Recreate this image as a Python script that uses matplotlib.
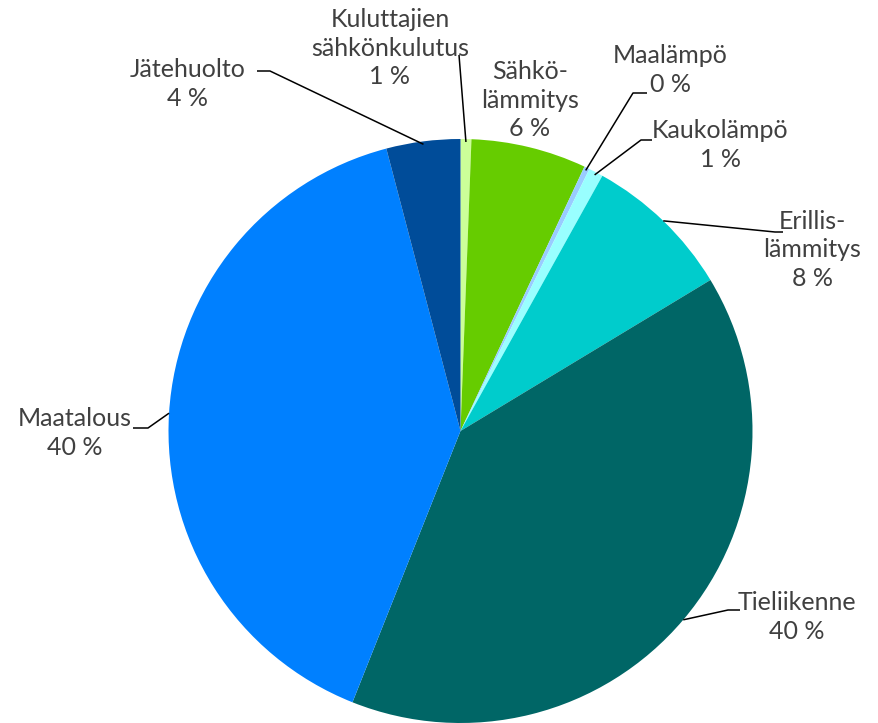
import numpy as np
import matplotlib
matplotlib.use('Agg')
import matplotlib.pyplot as plt

# shares of emissions (%), clockwise from 12 o'clock
sectors = ['Kuluttajien\nsähkönkulutus', 'Sähkö-\nlämmitys', 'Maalämpö', 'Kaukolämpö',
           'Erillis-\nlämmitys', 'Tieliikenne', 'Maatalous', 'Jätehuolto']
shares = [0.6, 6.4, 0.3, 0.8, 8.3, 39.8, 40.0, 4.1]
shown = ['1 %', '6 %', '0 %', '1 %', '8 %', '40 %', '40 %', '4 %']
colors = ['#ccff99', '#66cc00', '#99ccff', '#99ffff', '#00cccc', '#006666', '#0080ff', '#004c99']

plt.rcParams['font.family'] = ['Lato', 'DejaVu Sans']

W, H = 879, 723
cx, cy, R = 460.5, 431, 292  # pie centre / radius in pixels


def px(x, y):
    # pixel position -> data coordinates (pie radius = 1)
    return (x - cx) / R, (cy - y) / R


fig = plt.figure(figsize=(W / 100, H / 100), dpi=100)
ax = fig.add_axes([0, 0, 1, 1])
wedges, _ = ax.pie(shares, colors=colors, startangle=90, counterclock=False,
                   radius=1, wedgeprops=dict(linewidth=0))
ax.set_xlim(-cx / R, (W - cx) / R)
ax.set_ylim(-(H - cy) / R, cy / R)
ax.axis('off')

# label centre (px) and leader line: radius factor at wedge, elbow, end (px)
layout = {
    0: ((390, 48), (0.99, (459, 55), (459, 55))),
    1: ((530, 100), None),
    2: ((670, 70), (0.99, (633, 93), (647, 93))),
    3: ((720, 145), (0.99, (641, 140), (652, 140))),
    4: ((812, 250), (1.0, (775, 232), (783, 232))),
    5: ((797, 617), (1.0, (728, 610), (740, 610))),
    6: ((75, 433), (1.0, (148, 428), (133, 428))),
    7: ((188, 84), (0.99, (270, 71), (257, 71))),
}

for i, w in enumerate(wedges):
    (lx, ly), lead = layout[i]
    tx, ty = px(lx, ly)
    ax.text(tx, ty, sectors[i] + '\n' + shown[i], ha='center', va='center',
            fontsize=18, color='#404040', linespacing=1.28)
    if lead is not None:
        rf, elbow, end = lead
        mid = np.deg2rad((w.theta1 + w.theta2) / 2)
        sx, sy = rf * np.cos(mid), rf * np.sin(mid)
        ex, ey = px(*elbow)
        fx, fy = px(*end)
        ax.plot([sx, ex, fx], [sy, ey, fy], color='black', lw=1.1,
                solid_capstyle='butt', zorder=3)

fig.savefig('out.png', dpi=100)
